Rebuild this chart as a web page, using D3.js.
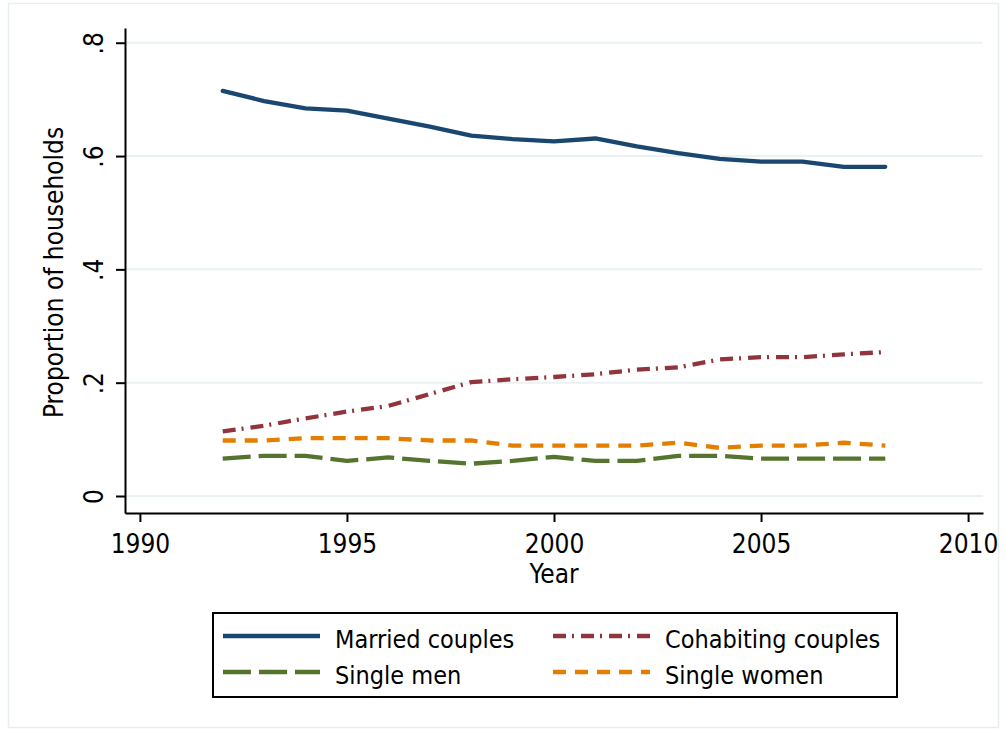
<!DOCTYPE html>
<html>
<head>
<meta charset="utf-8">
<script src="https://cdn.jsdelivr.net/npm/d3@7"></script>
<style>
  body { margin: 0; background: #fff; }
  text { font-family: "DejaVu Sans Condensed", "DejaVu Sans", sans-serif; fill: #000; }
</style>
</head>
<body>
<div id="wrapper"></div>
<script>
const years = d3.range(1992, 2009);
const married = [0.715, 0.697, 0.684, 0.680, 0.666, 0.652, 0.636, 0.630, 0.626, 0.631, 0.617, 0.605, 0.595, 0.590, 0.590, 0.581, 0.581];
const cohabiting = [0.114, 0.124, 0.137, 0.149, 0.159, 0.180, 0.201, 0.206, 0.210, 0.215, 0.223, 0.227, 0.241, 0.245, 0.245, 0.250, 0.254];
const singleMen = [0.066, 0.071, 0.071, 0.062, 0.068, 0.062, 0.057, 0.062, 0.069, 0.062, 0.062, 0.071, 0.071, 0.066, 0.066, 0.066, 0.066];
const singleWomen = [0.098, 0.098, 0.102, 0.102, 0.102, 0.098, 0.098, 0.089, 0.089, 0.089, 0.089, 0.094, 0.085, 0.089, 0.089, 0.094, 0.089];
const xTicks = [1990, 1995, 2000, 2005, 2010];
const yTicks = [0, 0.2, 0.4, 0.6, 0.8];
const yTickLabels = ["0", ".2", ".4", ".6", ".8"];

const series = [
    { name: "Married couples", values: married, color: "#1a476f", dash: null, cap: "round" },
    { name: "Cohabiting couples", values: cohabiting, color: "#90353b", dash: "13,6,2,7", cap: "butt" },
    { name: "Single men", values: singleMen, color: "#55752f", dash: "28,8", cap: "butt" },
    { name: "Single women", values: singleWomen, color: "#e37e00", dash: "13,9", cap: "butt" }
];

const dimensions = {
    width: 1006,
    height: 730,
    margins: { top: 28, right: 23, bottom: 217, left: 125 }
};
dimensions.boundedWidth = dimensions.width - dimensions.margins.left - dimensions.margins.right;
dimensions.boundedHeight = dimensions.height - dimensions.margins.top - dimensions.margins.bottom;

const wrapper = d3.select("#wrapper")
    .append("svg")
    .attr("width", dimensions.width)
    .attr("height", dimensions.height);

// outer graph region frame
wrapper.append("rect")
    .attr("x", 8.5).attr("y", 3.5)
    .attr("width", 990).attr("height", 724)
    .attr("fill", "none")
    .attr("stroke", "#e6eef2")
    .attr("stroke-width", 1.5);

const bounds = wrapper.append("g")
    .attr("transform", `translate(${dimensions.margins.left},${dimensions.margins.top})`);

const xScale = d3.scaleLinear()
    .domain([1989.64, 2010.36])
    .range([0, dimensions.boundedWidth]);

const yScale = d3.scaleLinear()
    .domain([-0.03, 0.826])
    .range([dimensions.boundedHeight, 0]);

// gridlines
bounds.append("g")
    .selectAll("line")
    .data(yTicks)
    .join("line")
    .attr("x1", 0)
    .attr("x2", dimensions.boundedWidth)
    .attr("y1", d => yScale(d))
    .attr("y2", d => yScale(d))
    .attr("stroke", "#eaf2f3")
    .attr("stroke-width", 2);

// lines
const lineGenerator = d3.line()
    .x((d, i) => xScale(years[i]))
    .y(d => yScale(d));

bounds.append("g")
    .selectAll("path")
    .data(series)
    .join("path")
    .attr("d", d => lineGenerator(d.values))
    .attr("fill", "none")
    .attr("stroke", d => d.color)
    .attr("stroke-width", 4.3)
    .attr("stroke-linecap", d => d.cap)
    .attr("stroke-linejoin", "round")
    .attr("stroke-dasharray", d => d.dash);

// axes
const xAxisGenerator = d3.axisBottom(xScale)
    .tickValues(xTicks)
    .tickFormat(d3.format("d"))
    .tickSize(9)
    .tickSizeOuter(0)
    .tickPadding(6);

const xAxis = bounds.append("g")
    .attr("transform", `translate(0,${dimensions.boundedHeight})`)
    .call(xAxisGenerator);
xAxis.select(".domain").attr("stroke-width", 2);
xAxis.selectAll(".tick line").attr("stroke-width", 2);
xAxis.selectAll(".tick text")
    .attr("font-size", 26)
    .attr("font-family", "DejaVu Sans Condensed, DejaVu Sans, sans-serif")
    .attr("dy", null)
    .attr("y", 40);

const yAxisGenerator = d3.axisLeft(yScale)
    .tickValues(yTicks)
    .tickFormat((d, i) => yTickLabels[i])
    .tickSize(9)
    .tickSizeOuter(0);

const yAxis = bounds.append("g").call(yAxisGenerator);
yAxis.select(".domain").attr("stroke-width", 2);
yAxis.selectAll(".tick line").attr("stroke-width", 2);
yAxis.selectAll(".tick text")
    .attr("font-size", 26)
    .attr("font-family", "DejaVu Sans Condensed, DejaVu Sans, sans-serif")
    .attr("x", null).attr("dy", null)
    .attr("text-anchor", "middle")
    .attr("transform", "translate(-22,0) rotate(-90)");

// axis titles
wrapper.append("text")
    .attr("x", dimensions.margins.left + dimensions.boundedWidth / 2)
    .attr("y", 583)
    .attr("text-anchor", "middle")
    .attr("font-size", 26)
    .text("Year");

wrapper.append("text")
    .attr("transform", `translate(63,${dimensions.margins.top + dimensions.boundedHeight / 2 + 2}) rotate(-90)`)
    .attr("text-anchor", "middle")
    .attr("font-size", 26)
    .text("Proportion of households");

// legend
const legend = wrapper.append("g");
legend.append("rect")
    .attr("x", 213).attr("y", 613)
    .attr("width", 684).attr("height", 84)
    .attr("fill", "#fff")
    .attr("stroke", "#000")
    .attr("stroke-width", 2);

const legendPos = [
    { x: 223, y: 636 },
    { x: 553, y: 636 },
    { x: 223, y: 672 },
    { x: 553, y: 672 }
];

const items = legend.selectAll("g.item")
    .data(series)
    .join("g")
    .attr("class", "item")
    .attr("transform", (d, i) => `translate(${legendPos[i].x},${legendPos[i].y})`);

items.append("line")
    .attr("x1", 0).attr("x2", 97)
    .attr("y1", 0).attr("y2", 0)
    .attr("stroke", d => d.color)
    .attr("stroke-width", 4.3)
    .attr("stroke-dasharray", d => d.dash);

items.append("text")
    .attr("x", 112)
    .attr("y", 12)
    .attr("font-size", 25)
    .text(d => d.name);
</script>
</body>
</html>
